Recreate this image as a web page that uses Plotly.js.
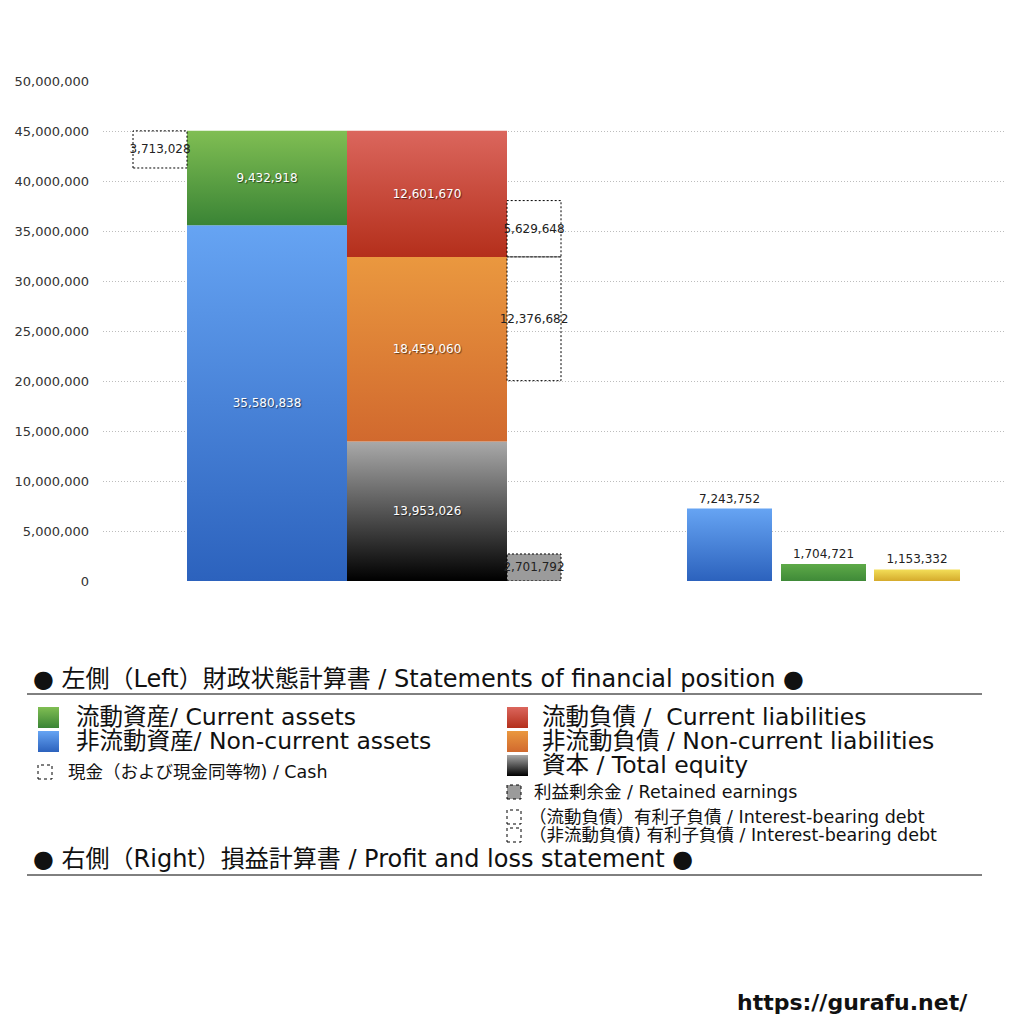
<!DOCTYPE html>
<html><head><meta charset="utf-8">
<script src="https://cdn.plot.ly/plotly-3.0.1.min.js"></script>
<style>html,body{margin:0;padding:0;background:#fff}#chart{width:1024px;height:1024px}</style>
</head><body><div id="chart"></div>
<script>
// ---------- data ----------
const assetNames = ['非流動資産', '流動資産'];
const assetValues = [35580838, 9432918];
const claimNames = ['資本', '非流動負債', '流動負債'];
const claimValues = [13953026, 18459060, 12601670];
const cashValue = 3713028;
const retainedEarnings = 2701792;
const debtCurrent = 5629648;
const debtNonCurrent = 12376682;
const plNames = ['PL-1', 'PL-2', 'PL-3'];
const plValues = [7243752, 1704721, 1153332];
const yTickValues = [0, 5000000, 10000000, 15000000, 20000000, 25000000, 30000000, 35000000, 40000000, 45000000, 50000000];

// ---------- layout positions (pixel-like x axis units) ----------
const POS = {
  cash: {x: 160, w: 54},
  assets: {x: 267, w: 160},
  claims: {x: 427, w: 160},
  side: {x: 534, w: 54},
  pl: [{x: 729.5, w: 85}, {x: 823.5, w: 85}, {x: 917, w: 86}]
};
const FONT = '"DejaVu Sans", "Noto Sans CJK JP", sans-serif';
const fmt = v => v.toLocaleString('en-US');
const GRAD = {
  blue: ['#66a4f3', '#2c62bd'],
  green: ['#80be53', '#3a8435'],
  black: ['#a9a9a9', '#000000'],
  orange: ['#ea983f', '#d1692e'],
  red: ['#db665d', '#b42f1b'],
  yellow: ['#f3de58', '#d5aa2c'],
  greenR: ['#5eaa48', '#3f8a38']
};

const traces = [];
const post = []; // per trace: {grad, dash}
function addBar(x, w, base, val, color, opts) {
  opts = opts || {};
  traces.push({
    type: 'bar', x: [x], y: [val], base: [base], width: [w],
    marker: {color: color, line: {color: opts.lineColor || 'rgba(0,0,0,0)', width: opts.lineWidth || 0}},
    text: [fmt(val)],
    textposition: opts.textpos || 'inside',
    insidetextanchor: 'middle',
    textangle: 0,
    constraintext: 'none',
    cliponaxis: false,
    textfont: Object.assign({family: FONT, size: 12, color: '#ffffff',
      shadow: '1px 1px 1px rgba(0,0,0,0.55)'}, opts.textfont || {}),
    hoverinfo: 'none', showlegend: false
  });
  post.push({grad: opts.grad || null, dash: !!opts.dash});
}
const darkText = {color: '#222222', shadow: 'none', size: 12};

// assets column
addBar(POS.assets.x, POS.assets.w, 0, assetValues[0], GRAD.blue[1], {grad: 'blue'});
addBar(POS.assets.x, POS.assets.w, assetValues[0], assetValues[1], GRAD.green[1], {grad: 'green'});
// claims column
addBar(POS.claims.x, POS.claims.w, 0, claimValues[0], '#333', {grad: 'black'});
addBar(POS.claims.x, POS.claims.w, claimValues[0], claimValues[1], GRAD.orange[1], {grad: 'orange'});
addBar(POS.claims.x, POS.claims.w, claimValues[0] + claimValues[1], claimValues[2], GRAD.red[1], {grad: 'red'});
// cash box (top of assets)
const assetTotal = assetValues[0] + assetValues[1];
addBar(POS.cash.x, POS.cash.w, assetTotal - cashValue, cashValue, 'rgba(255,255,255,0)',
  {dash: true, lineColor: '#000', lineWidth: 1, textfont: darkText});
// retained earnings
addBar(POS.side.x, POS.side.w, 0, retainedEarnings, '#9b9b9b',
  {dash: true, lineColor: '#000', lineWidth: 1, textfont: darkText});
// interest-bearing debts
const ncTop = claimValues[0] + claimValues[1];
addBar(POS.side.x, POS.side.w, ncTop, debtCurrent, 'rgba(255,255,255,0)',
  {dash: true, lineColor: '#000', lineWidth: 1, textfont: darkText});
addBar(POS.side.x, POS.side.w, ncTop - debtNonCurrent, debtNonCurrent, 'rgba(255,255,255,0)',
  {dash: true, lineColor: '#000', lineWidth: 1, textfont: darkText});
// profit and loss
const plGrads = ['blue', 'greenR', 'yellow'];
plValues.forEach((v, i) => {
  addBar(POS.pl[i].x, POS.pl[i].w, 0, v, GRAD[plGrads[i]][1],
    {grad: plGrads[i], textpos: 'outside', textfont: {color: '#222222', shadow: 'none', size: 12}});
});

// ---------- helpers for paper coordinates ----------
const L = 103, R = 1005, T = 81, B = 581;
const PX = px => (px - L) / (R - L);
const PY = py => (B - py) / (B - T);

const annotations = [];
const shapes = [];
const shapePost = [];
function label(px, py, text, size, extra) {
  annotations.push(Object.assign({xref: 'paper', yref: 'paper', x: PX(px), y: PY(py), text: text,
    showarrow: false, xanchor: 'left', yanchor: 'middle',
    font: {family: FONT, size: size, color: '#111111'}}, extra || {}));
}
function square(x0, y0, s, fill, grad, dash) {
  shapes.push({type: 'rect', xref: 'paper', yref: 'paper', x0: PX(x0), x1: PX(x0 + s), y0: PY(y0 + s), y1: PY(y0),
    fillcolor: fill, line: dash ? {color: '#000', width: 1, dash: 'dot'} : {width: 0}, layer: 'above'});
  shapePost.push(grad || null);
}
function hline(x0, x1, py) {
  shapes.push({type: 'line', xref: 'paper', yref: 'paper', x0: PX(x0), x1: PX(x1), y0: PY(py), y1: PY(py),
    line: {color: '#000', width: 1}, layer: 'above'});
  shapePost.push(null);
}

const BIG = 23.5, HEAD = 24, SMALL = 17.5;
label(31, 679, '● 左側（Left）財政状態計算書 / Statements of financial position ●', HEAD);
hline(27, 982, 694);
square(38, 707, 21, GRAD.green[1], 'green');
label(74, 717, '流動資産/ Current assets', BIG);
square(38, 731, 21, GRAD.blue[1], 'blue');
label(74, 741, '非流動資産/ Non-current assets', BIG);
square(38, 765, 14, 'rgba(255,255,255,0)', null, true);
label(66, 772, '現金（および現金同等物) / Cash', SMALL);

square(507, 707, 21, GRAD.red[1], 'red');
label(540, 717, '流動負債 /  Current liabilities', BIG);
square(507, 731, 21, GRAD.orange[1], 'orange');
label(540, 741, '非流動負債 / Non-current liabilities', BIG);
square(507, 755, 21, '#333', 'black');
label(540, 765, '資本 / Total equity', BIG);
square(507, 785, 14, '#9b9b9b', null, true);
label(532, 792, '利益剰余金 / Retained earnings', SMALL);
square(507, 810, 14, 'rgba(255,255,255,0)', null, true);
label(527, 817, '（流動負債）有利子負債 / Interest-bearing debt', SMALL);
square(507, 828, 14, 'rgba(255,255,255,0)', null, true);
label(527, 835, '（非流動負債) 有利子負債 / Interest-bearing debt', SMALL);

label(31, 859, '● 右側（Right）損益計算書 / Profit and loss statement ●', HEAD);
hline(27, 982, 875);

annotations.push({xref: 'paper', yref: 'paper', x: PX(970), y: PY(1003), text: 'https://gurafu.net/',
  showarrow: false, xanchor: 'right', yanchor: 'middle',
  font: {family: '"DejaVu Sans", sans-serif', size: 22, color: '#111111', weight: 'bold'}});

const layout = {
  width: 1024, height: 1024,
  margin: {l: L, r: 1024 - R, t: T, b: 1024 - B, pad: 0},
  paper_bgcolor: '#ffffff', plot_bgcolor: '#ffffff',
  barmode: 'overlay',
  showlegend: false,
  xaxis: {range: [L, R], showgrid: false, zeroline: false, showticklabels: false, fixedrange: true, showline: false},
  yaxis: {range: [0, 50000000], tickvals: yTickValues, ticktext: yTickValues.map(fmt),
    showgrid: true, gridcolor: '#bdbdbd', gridwidth: 1, griddash: '1px,2px', zeroline: false,
    ticks: '', ticklabelstandoff: 13, showline: false,
    tickfont: {family: FONT, size: 13, color: '#333333'}},
  annotations: annotations,
  shapes: shapes,
  font: {family: FONT}
};

Plotly.newPlot('chart', traces, layout, {staticPlot: true}).then(gd => {
  const svg = gd.querySelector('svg.main-svg');
  const NS = 'http://www.w3.org/2000/svg';
  const defs = document.createElementNS(NS, 'defs');
  Object.keys(GRAD).forEach(k => {
    const g = document.createElementNS(NS, 'linearGradient');
    g.setAttribute('id', 'grad-' + k);
    g.setAttribute('x1', '0'); g.setAttribute('y1', '0');
    g.setAttribute('x2', '0'); g.setAttribute('y2', '1');
    GRAD[k].forEach((c, i) => {
      const s = document.createElementNS(NS, 'stop');
      s.setAttribute('offset', i === 0 ? '0' : '1');
      s.setAttribute('stop-color', c);
      g.appendChild(s);
    });
    defs.appendChild(g);
  });
  svg.insertBefore(defs, svg.firstChild);
  const traceGroups = gd.querySelectorAll('.barlayer .trace');
  traceGroups.forEach((tg, i) => {
    const p = post[i];
    if (!p) return;
    tg.querySelectorAll('.point path').forEach(path => {
      if (p.grad) path.style.fill = 'url(#grad-' + p.grad + ')';
      if (p.dash) path.style.strokeDasharray = '2,2';
    });
  });
  const shapePaths = gd.querySelectorAll('.shapelayer path');
  shapePaths.forEach((path, j) => {
    const idx = path.getAttribute('data-index');
    const i = idx !== null ? +idx : j;
    if (shapePost[i]) path.style.fill = 'url(#grad-' + shapePost[i] + ')';
  });
});
</script>
</body></html>
